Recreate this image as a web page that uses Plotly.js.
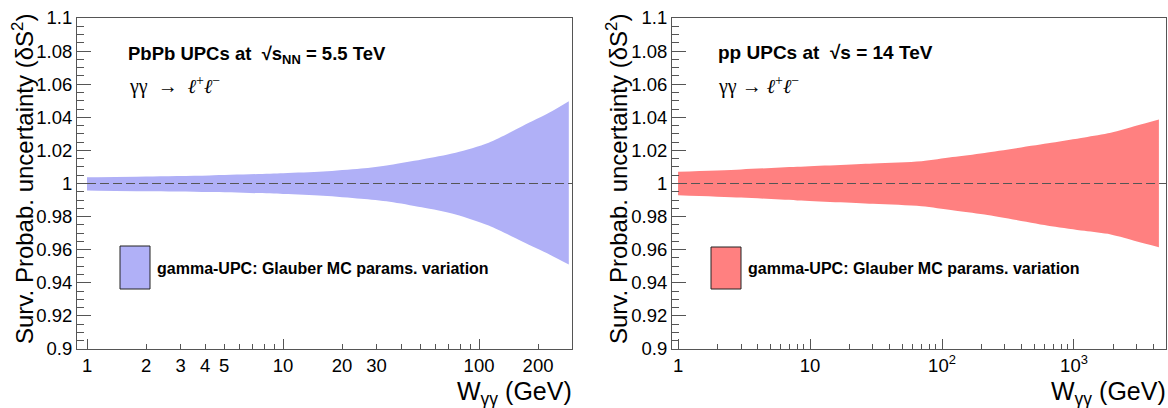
<!DOCTYPE html>
<html>
<head>
<meta charset="utf-8">
<script src="https://cdn.plot.ly/plotly-3.0.1.min.js"></script>
<style>html,body{margin:0;padding:0;background:#fff;}#chart{width:1168px;height:408px;}</style>
</head>
<body>
<div id="chart"></div>
<script>
// ---- Data ----
// PbPb panel: W_gammagamma (GeV), upper and lower edge of the band
const wPbPb     = [1, 2, 4.2, 10, 16, 25, 35, 51, 76, 112, 166, 230, 287];
const upperPbPb = [1.0038, 1.0043, 1.0049, 1.0062, 1.0072, 1.0090, 1.0112, 1.0145, 1.0186, 1.0246, 1.0346, 1.0430, 1.0497];
const lowerPbPb = [0.9958, 0.9953, 0.9948, 0.9937, 0.9926, 0.9908, 0.9890, 0.9856, 0.9813, 0.9746, 0.9650, 0.9570, 0.9510];
// pp panel
const wPP       = [1, 3, 8, 30, 70, 120, 210, 673, 1200, 1900, 3000, 4400];
const upperPP   = [1.0071, 1.0085, 1.0101, 1.0121, 1.0135, 1.0160, 1.0185, 1.0246, 1.0278, 1.0306, 1.0350, 1.0387];
const lowerPP   = [0.9929, 0.9915, 0.9898, 0.9878, 0.9863, 0.9839, 0.9813, 0.9742, 0.9714, 0.9692, 0.9650, 0.9615];

// tick labels
const yTickVals = [0.9, 0.92, 0.94, 0.96, 0.98, 1, 1.02, 1.04, 1.06, 1.08, 1.1];
const yTickText = ["0.9", "0.92", "0.94", "0.96", "0.98", "1", "1.02", "1.04", "1.06", "1.08", "1.1"];
const xLeftLabelVals = [1, 2, 3, 4, 5, 10, 20, 30, 100, 200];
const xLeftLabelText = ["1", "2", "3", "4", "5", "10", "20", "30", "100", "200"];
const xLeftMajorVals = [1, 10, 100];
const xRightVals = [1, 10, 100, 1000];
const xRightText = ["1", "10", "10<sup>2</sup>", "10<sup>3</sup>"];

const legendLabel = "gamma-UPC: Glauber MC params. variation";
const yTitle = "Surv. Probab. uncertainty (\u03B4S<sup>2</sup>)";
const xTitle = "W<sub>\u03B3\u03B3</sub> (GeV)";
const textPbPb = "<b>PbPb UPCs at  \u221As<sub>NN</sub> = 5.5 TeV</b>";
const textPP = "<b>pp UPCs at  \u221As = 14 TeV</b>";
const procLeft = "\u03B3\u03B3  \u2192  <i>\u2113</i><sup>+</sup><i>\u2113</i><sup>\u2212</sup>";
const procRight = "\u03B3\u03B3 \u2192 <i>\u2113</i><sup>+</sup><i>\u2113</i><sup>\u2212</sup>";

// ---- Layout helpers ----
const W = 1168, H = 408;
const px = v => v / W;
const py = v => 1 - v / H;
const blueFill = "rgb(176,176,247)";
const redFill = "rgb(255,128,128)";
const axisCol = "#555";
const font = "Liberation Sans, Arial, sans-serif";

const leftRange = [Math.log10(0.889), Math.log10(298)];
const rightRange = [Math.log10(0.9), Math.log10(4980)];

function minorVals(maxV) {
  const out = [];
  for (let d = 1; d <= maxV; d *= 10) {
    for (let k = 2; k <= 9; k++) { if (k * d <= maxV) out.push(k * d); }
  }
  return out;
}

function band(x, up, lo, color, xa, ya) {
  return [
    {x: x, y: lo, type: "scatter", mode: "lines",
     line: {width: 0, color: color, shape: "spline", smoothing: 0.8},
     xaxis: xa, yaxis: ya, hoverinfo: "skip", showlegend: false},
    {x: x, y: up, type: "scatter", mode: "lines", fill: "tonexty", fillcolor: color,
     line: {width: 0, color: color, shape: "spline", smoothing: 0.8},
     xaxis: xa, yaxis: ya, hoverinfo: "skip", showlegend: false}
  ];
}

const traces = [].concat(
  band(wPbPb, upperPbPb, lowerPbPb, blueFill, "x", "y"),
  band(wPP, upperPP, lowerPP, redFill, "x2", "y2"),
  [{x: [], y: [], type: "scatter", xaxis: "x3", yaxis: "y", showlegend: false}]
);

const yCommon = {
  range: [0.9, 1.1], tickmode: "array", tickvals: yTickVals, ticktext: yTickText,
  ticks: "inside", ticklen: 14, tickwidth: 1, tickcolor: axisCol,
  minor: {dtick: 0.005, tick0: 0.9, ticks: "inside", ticklen: 7, tickcolor: axisCol, showgrid: false},
  showline: true, linecolor: axisCol, linewidth: 1, mirror: true,
  showgrid: false, zeroline: false,
  tickfont: {family: font, size: 18.5, color: "#000"},
  domain: [py(349), py(18)]
};

const layout = {
  width: W, height: H,
  margin: {l: 0, r: 0, t: 0, b: 0},
  paper_bgcolor: "#fff", plot_bgcolor: "#fff",
  showlegend: false,
  xaxis: {
    type: "log", range: leftRange, domain: [px(77), px(572)], anchor: "y",
    tickmode: "array", tickvals: xLeftLabelVals, ticktext: xLeftLabelText,
    ticks: "inside", ticklen: 5, tickwidth: 1, tickcolor: axisCol,
    minor: {tickmode: "array", tickvals: minorVals(298), ticks: "inside", ticklen: 5, tickcolor: axisCol, showgrid: false},
    showline: true, linecolor: axisCol, linewidth: 1, mirror: true,
    showgrid: false, zeroline: false,
    tickfont: {family: font, size: 18.5, color: "#000"}
  },
  xaxis3: {
    type: "log", range: leftRange, domain: [px(77), px(572)], anchor: "y", overlaying: "x",
    tickmode: "array", tickvals: xLeftMajorVals, showticklabels: false,
    ticks: "inside", ticklen: 10, tickwidth: 1, tickcolor: axisCol,
    showline: false, showgrid: false, zeroline: false
  },
  yaxis: Object.assign({}, yCommon, {anchor: "x"}),
  xaxis2: {
    type: "log", range: rightRange, domain: [px(672), px(1166)], anchor: "y2",
    tickmode: "array", tickvals: xRightVals, ticktext: xRightText,
    ticks: "inside", ticklen: 10, tickwidth: 1, tickcolor: axisCol,
    minor: {tickmode: "array", tickvals: minorVals(4980), ticks: "inside", ticklen: 5, tickcolor: axisCol, showgrid: false},
    showline: true, linecolor: axisCol, linewidth: 1, mirror: true,
    showgrid: false, zeroline: false,
    tickfont: {family: font, size: 18.5, color: "#000"}
  },
  yaxis2: Object.assign({}, yCommon, {anchor: "x2"}),
  shapes: [
    // reference lines at 1, from W = 1 to the right frame
    {type: "line", xref: "x domain", yref: "y", x0: (0 - leftRange[0]) / (leftRange[1] - leftRange[0]), x1: 1, y0: 1, y1: 1,
     line: {color: "#555", width: 1, dash: "9px,4px"}},
    {type: "line", xref: "x2 domain", yref: "y2", x0: (0 - rightRange[0]) / (rightRange[1] - rightRange[0]), x1: 1, y0: 1, y1: 1,
     line: {color: "#555", width: 1, dash: "9px,4px"}},
    // legend boxes
    {type: "rect", xref: "paper", yref: "paper", x0: px(120), x1: px(150), y0: py(289), y1: py(246),
     fillcolor: blueFill, line: {color: "#222", width: 1}},
    {type: "rect", xref: "paper", yref: "paper", x0: px(711), x1: px(741), y0: py(289), y1: py(247),
     fillcolor: redFill, line: {color: "#222", width: 1}}
  ],
  annotations: [
    {text: textPbPb, xref: "paper", yref: "paper", x: px(126), y: py(55), xanchor: "left", yanchor: "middle", showarrow: false,
     font: {family: font, size: 18.5, color: "#000"}},
    {text: procLeft, xref: "paper", yref: "paper", x: px(127), y: py(85), xanchor: "left", yanchor: "middle", showarrow: false,
     font: {family: "Liberation Serif, serif", size: 20, color: "#000"}},
    {text: legendLabel, xref: "paper", yref: "paper", x: px(155), y: py(268), xanchor: "left", yanchor: "middle", showarrow: false,
     font: {family: font, size: 16, color: "#000", weight: "bold"}},
    {text: textPP, xref: "paper", yref: "paper", x: px(716), y: py(53), xanchor: "left", yanchor: "middle", showarrow: false,
     font: {family: font, size: 19, color: "#000"}},
    {text: procRight, xref: "paper", yref: "paper", x: px(716), y: py(85), xanchor: "left", yanchor: "middle", showarrow: false,
     font: {family: "Liberation Serif, serif", size: 20, color: "#000"}},
    {text: legendLabel, xref: "paper", yref: "paper", x: px(746), y: py(268), xanchor: "left", yanchor: "middle", showarrow: false,
     font: {family: font, size: 16, color: "#000", weight: "bold"}},
    // axis titles
    {text: yTitle, xref: "paper", yref: "paper", x: px(23), y: py(12), xanchor: "center", yanchor: "top", textangle: -90, showarrow: false,
     font: {family: font, size: 24, color: "#000"}},
    {text: yTitle, xref: "paper", yref: "paper", x: px(617), y: py(12), xanchor: "center", yanchor: "top", textangle: -90, showarrow: false,
     font: {family: font, size: 24, color: "#000"}},
    {text: xTitle, xref: "paper", yref: "paper", x: px(574), y: py(393), xanchor: "right", yanchor: "middle", showarrow: false,
     font: {family: font, size: 25, color: "#000"}},
    {text: xTitle, xref: "paper", yref: "paper", x: px(1168), y: py(393), xanchor: "right", yanchor: "middle", showarrow: false,
     font: {family: font, size: 25, color: "#000"}}
  ]
};

Plotly.newPlot("chart", traces, layout, {staticPlot: true, displayModeBar: false});
</script>
</body>
</html>
